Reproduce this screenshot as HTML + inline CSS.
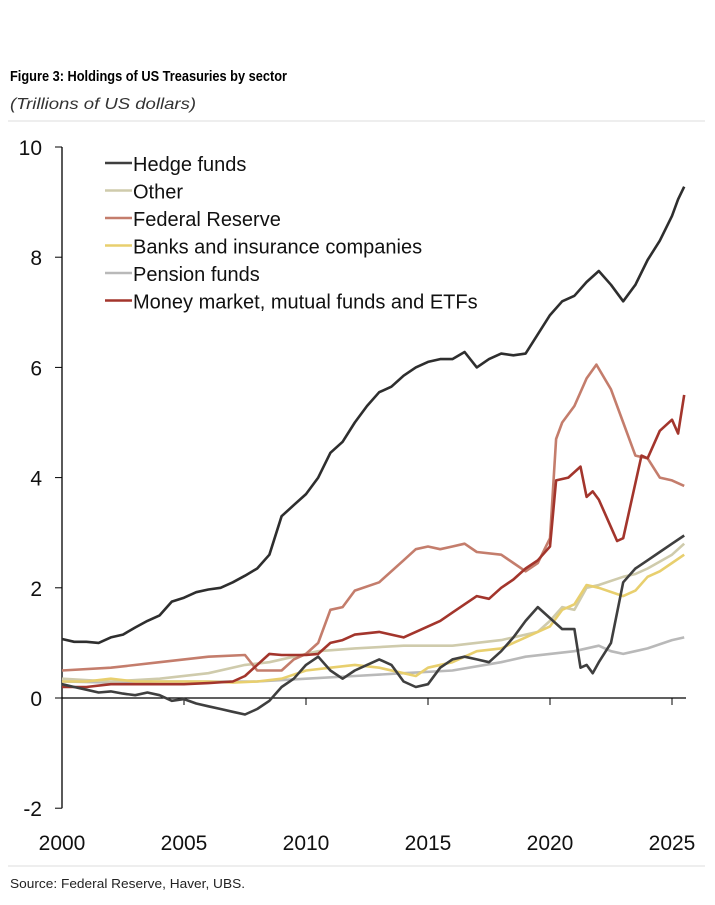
<!DOCTYPE html>
<html><head><meta charset="utf-8"><style>
body{margin:0;background:#fff;width:715px;height:905px;overflow:hidden;font-family:"Liberation Sans",sans-serif;}
svg{position:absolute;left:0;top:0}
</style></head><body>
<svg width="715" height="905" id="c">
<text x="10" y="81" font-size="15" font-weight="bold" fill="#000" textLength="277" lengthAdjust="spacingAndGlyphs">Figure 3: Holdings of US Treasuries by sector</text>
<text x="10" y="109" font-size="16" font-style="italic" fill="#333" textLength="186" lengthAdjust="spacingAndGlyphs">(Trillions of US dollars)</text>
<line x1="8" y1="121" x2="705" y2="121" stroke="#ddd"/>
<line x1="8" y1="866" x2="705" y2="866" stroke="#ddd"/>
<text x="10" y="888" font-size="13" fill="#222" textLength="235" lengthAdjust="spacingAndGlyphs">Source: Federal Reserve, Haver, UBS.</text>
</svg>
<script>
const yTicks=[10,8,6,4,2,0,-2];
const xTicks=[2000,2005,2010,2015,2020,2025];
const seriesNames=["Hedge funds","Other","Federal Reserve","Banks and insurance companies","Pension funds","Money market, mutual funds and ETFs"];
const topX=[2000,2000.5,2001,2001.5,2002,2002.5,2003,2003.5,2004,2004.5,2005,2005.5,2006,2006.5,2007,2007.5,2008,2008.5,2009,2009.5,2010,2010.5,2011,2011.5,2012,2012.5,2013,2013.5,2014,2014.5,2015,2015.5,2016,2016.5,2017,2017.5,2018,2018.5,2019,2019.5,2020,2020.5,2021,2021.5,2022,2022.5,2023,2023.5,2024,2024.5,2025,2025.25,2025.5];
const topY=[1.07,1.02,1.02,1.0,1.1,1.15,1.28,1.4,1.5,1.75,1.82,1.92,1.97,2.0,2.1,2.22,2.35,2.6,3.3,3.5,3.7,4.0,4.45,4.65,5.0,5.3,5.55,5.65,5.85,6.0,6.1,6.15,6.15,6.28,6.0,6.15,6.25,6.22,6.25,6.6,6.95,7.2,7.3,7.55,7.75,7.5,7.2,7.5,7.95,8.3,8.75,9.05,9.28];
const hfX=[2000,2000.5,2001,2001.5,2002,2002.5,2003,2003.5,2004,2004.5,2005,2005.5,2006,2006.5,2007,2007.5,2008,2008.5,2009,2009.5,2010,2010.5,2011,2011.5,2012,2012.5,2013,2013.5,2014,2014.5,2015,2015.5,2016,2016.5,2017,2017.5,2018,2018.5,2019,2019.5,2020,2020.5,2021,2021.25,2021.5,2021.75,2022,2022.5,2023,2023.5,2024,2024.5,2025,2025.5];
const hfY=[0.25,0.2,0.15,0.1,0.12,0.08,0.05,0.1,0.05,-0.05,-0.02,-0.1,-0.15,-0.2,-0.25,-0.3,-0.2,-0.05,0.2,0.35,0.6,0.75,0.5,0.35,0.5,0.6,0.7,0.6,0.3,0.2,0.25,0.55,0.7,0.75,0.7,0.65,0.85,1.1,1.4,1.65,1.45,1.25,1.25,0.55,0.6,0.45,0.65,1.0,2.1,2.35,2.5,2.65,2.8,2.95];
const otX=[2000,2002,2004,2006,2007.5,2008.5,2009.5,2010.5,2012,2014,2016,2018,2019.5,2020,2020.5,2021,2021.5,2022,2023,2023.5,2024,2025,2025.5];
const otY=[0.35,0.3,0.35,0.45,0.6,0.65,0.75,0.85,0.9,0.95,0.95,1.05,1.2,1.4,1.65,1.6,2.0,2.05,2.2,2.25,2.35,2.6,2.8];
const fedX=[2000,2002,2004,2006,2007.5,2008,2009,2009.5,2010,2010.5,2011,2011.5,2012,2013,2014,2014.5,2015,2015.5,2016,2016.5,2017,2018,2018.5,2019,2019.5,2020,2020.25,2020.5,2021,2021.5,2021.9,2022.5,2023,2023.5,2024,2024.5,2025,2025.5];
const fedY=[0.5,0.55,0.65,0.75,0.78,0.5,0.5,0.7,0.8,1.0,1.6,1.65,1.95,2.1,2.5,2.7,2.75,2.7,2.75,2.8,2.65,2.6,2.45,2.3,2.45,2.9,4.7,5.0,5.3,5.8,6.05,5.6,5.0,4.4,4.35,4.0,3.95,3.85];
const bkX=[2000,2001,2002,2003,2004,2005,2006,2007,2008,2009,2010,2011,2012,2013,2014,2014.5,2015,2016,2017,2018,2019,2020,2020.5,2021,2021.5,2022,2023,2023.5,2024,2024.5,2025,2025.5];
const bkY=[0.3,0.3,0.35,0.3,0.3,0.3,0.3,0.28,0.3,0.35,0.5,0.55,0.6,0.55,0.45,0.4,0.55,0.65,0.85,0.9,1.1,1.3,1.6,1.7,2.05,2.0,1.85,1.95,2.2,2.3,2.45,2.6];
const pnX=[2000,2002,2004,2006,2008,2010,2012,2014,2016,2018,2019,2020,2021,2022,2022.5,2023,2024,2025,2025.5];
const pnY=[0.3,0.28,0.3,0.3,0.3,0.35,0.4,0.45,0.5,0.65,0.75,0.8,0.85,0.95,0.85,0.8,0.9,1.05,1.1];
const mmX=[2000,2001,2002,2003,2004,2005,2006,2007,2007.5,2008,2008.5,2009,2010,2010.5,2011,2011.5,2012,2013,2014,2014.5,2015,2015.5,2016,2016.5,2017,2017.5,2018,2018.5,2019,2019.5,2020,2020.25,2020.75,2021.25,2021.5,2021.75,2022,2022.5,2022.75,2023,2023.5,2023.75,2024,2024.5,2025,2025.25,2025.5];
const mmY=[0.2,0.2,0.25,0.25,0.25,0.25,0.27,0.3,0.4,0.6,0.8,0.78,0.78,0.8,1.0,1.05,1.15,1.2,1.1,1.2,1.3,1.4,1.55,1.7,1.85,1.8,2.0,2.15,2.35,2.5,2.75,3.95,4.0,4.2,3.65,3.75,3.6,3.1,2.85,2.9,3.9,4.4,4.35,4.85,5.05,4.8,5.5];

const NS="http://www.w3.org/2000/svg";
const svg=document.getElementById('c');
const X0=62,X1=672,Y0=698,PU=55.1;
function sx(y){return X0+(y-2000)*(X1-X0)/25;}
function sy(v){return Y0-v*PU;}
function mk(t,a){const e=document.createElementNS(NS,t);for(const k in a)e.setAttribute(k,a[k]);svg.appendChild(e);return e;}
let ya=mk('line',{x1:X0,y1:sy(10),x2:X0,y2:sy(-2),stroke:'#000','stroke-width':1.3});


let xa=mk('line',{x1:X0,y1:Y0,x2:686,y2:Y0,stroke:'#000','stroke-width':1.3});


yTicks.forEach(v=>{
 let t=mk('line',{x1:X0-7,y1:sy(v),x2:X0,y2:sy(v),stroke:'#000'});
 
 
 let l=mk('text',{x:X0-20,y:sy(v)+8,'font-size':21,'text-anchor':'end',fill:'#111'});
 l.textContent=v;
 
 
});
xTicks.forEach(v=>{
 if(v>2000){let t=mk('line',{x1:sx(v),y1:Y0,x2:sx(v),y2:Y0+7,stroke:'#000'});
 
 }
 let l=mk('text',{x:sx(v),y:sy(-2)+42,'font-size':21,'text-anchor':'middle',fill:'#111'});
 l.textContent=v;
 
 
});
function line(xs,ys,col,name){
 const d=xs.map((x,i)=>(i?'L':'M')+sx(x).toFixed(1)+','+sy(ys[i]).toFixed(1)).join('');
 let p=mk('path',{d:d,fill:'none',stroke:col,'stroke-width':2.6,'stroke-linejoin':'round'});
 
 
}
line(pnX,pnY,'#b9b9b9','pension-funds-line');
line(otX,otY,'#cfcbac','other-line');
line(bkX,bkY,'#e8cf6e','banks-line');
line(fedX,fedY,'#c47d6c','federal-reserve-line');
line(mmX,mmY,'#a3352c','money-market-line');
line(hfX,hfY,'#3f3f3f','hedge-funds-line');
line(topX,topY,'#2e2e2e','top-series-line');
const legCols=['#3f3f3f','#cfcbac','#c47d6c','#e8cf6e','#b9b9b9','#a3352c'];
seriesNames.forEach((n,i)=>{
 const y=163+i*27.5;
 let s=mk('line',{x1:105,y1:y,x2:132,y2:y,stroke:legCols[i],'stroke-width':2.6});
 
 
 let t=mk('text',{x:133,y:y+8,'font-size':20,fill:'#111'});
 t.textContent=n;
 
 
});
</script>
</body></html>
